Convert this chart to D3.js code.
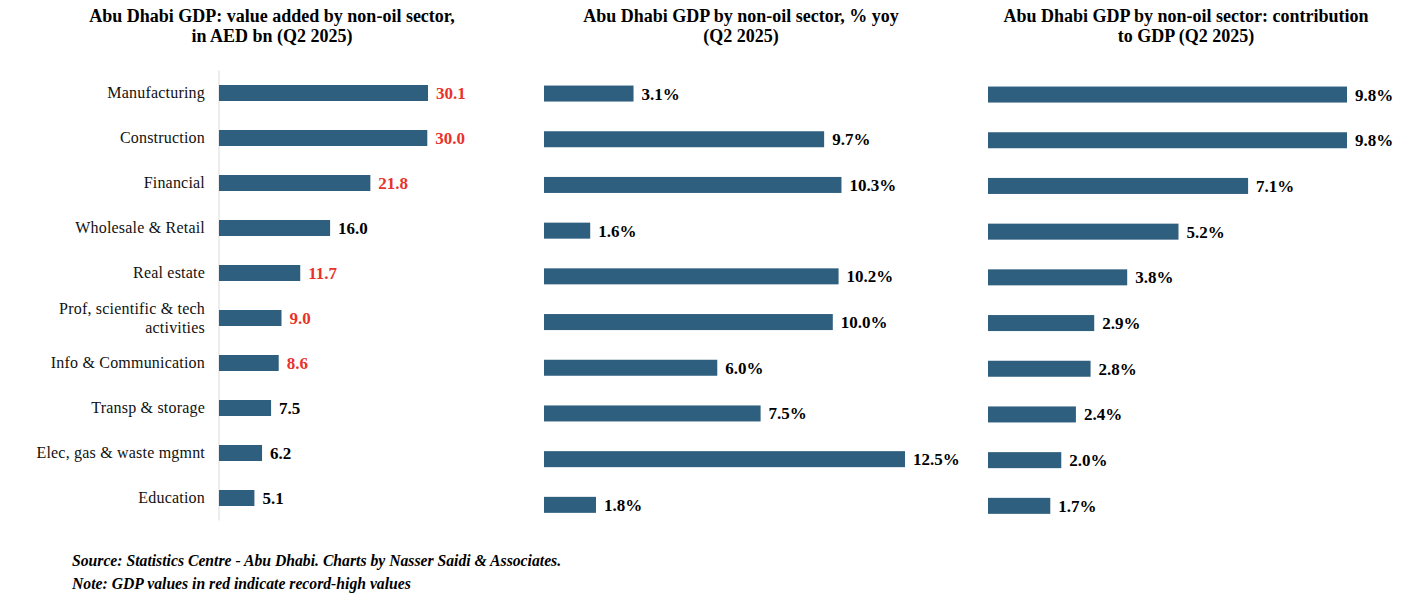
<!DOCTYPE html>
<html>
<head>
<meta charset="utf-8">
<script src="https://cdn.jsdelivr.net/npm/d3@7"></script>
<style>
  body { margin: 0; background: #fff; }
  svg { font-family: "Liberation Serif", "Times New Roman", serif; }
</style>
</head>
<body>
<svg width="1410" height="602"></svg>
<script>
// data
const sectors = ['Manufacturing', 'Construction', 'Financial', 'Wholesale & Retail', 'Real estate',
  'Prof, scientific & tech|activities', 'Info & Communication', 'Transp & storage',
  'Elec, gas & waste mgmnt', 'Education'];
const valueAdded = [30.1, 30.0, 21.8, 16.0, 11.7, 9.0, 8.6, 7.5, 6.2, 5.1];
const recordHigh = [true, true, true, false, true, true, true, false, false, false];
const yoyGrowth = [3.1, 9.7, 10.3, 1.6, 10.2, 10.0, 6.0, 7.5, 12.5, 1.8];
const gdpShare = [9.8, 9.8, 7.1, 5.2, 3.8, 2.9, 2.8, 2.4, 2.0, 1.7];

const titles = [
  ['Abu Dhabi GDP: value added by non-oil sector,', 'in AED bn (Q2 2025)'],
  ['Abu Dhabi GDP by non-oil sector, % yoy', '(Q2 2025)'],
  ['Abu Dhabi GDP by non-oil sector: contribution', 'to GDP (Q2 2025)']
];

const svg = d3.select("svg");
const barColor = "#2f5f7e";
const red = "#e8322b";

// layout of each panel
const panels = [
  { values: valueAdded, fmt: d => d.toFixed(1), x0: 219, x1: 428, max: 30.1, y0: 70.5, y1: 520.5, titleX: 272, axis: true, red: true },
  { values: yoyGrowth, fmt: d => d.toFixed(1) + '%', x0: 544, x1: 905, max: 12.5, y0: 70.7, y1: 527.7, titleX: 741, axis: false, red: false },
  { values: gdpShare, fmt: d => d.toFixed(1) + '%', x0: 988, x1: 1347, max: 9.8, y0: 71.7, y1: 528.7, titleX: 1186, axis: false, red: false }
];

panels.forEach(function(p, pi) {
  const g = svg.append("g");

  const x = d3.scaleLinear().domain([0, p.max]).range([p.x0, p.x1]);
  const y = d3.scalePoint().domain(sectors).range([p.y0, p.y1]).padding(0.5);
  const barH = 16;

  // title
  g.append("text")
    .attr("text-anchor", "middle")
    .attr("font-weight", "bold")
    .attr("font-size", "18px")
    .selectAll("tspan")
    .data(titles[pi])
    .enter()
    .append("tspan")
    .attr("x", p.titleX)
    .attr("y", (d, i) => 22 + i * 20)
    .text(d => d);

  if (p.axis) {
    g.append("line")
      .attr("x1", p.x0).attr("x2", p.x0)
      .attr("y1", p.y0).attr("y2", p.y1)
      .attr("stroke", "#d9d9d9")
      .attr("stroke-width", 1);

    // category labels
    sectors.forEach(function(s) {
      const lines = s.split('|');
      const t = g.append("text")
        .attr("text-anchor", "end")
        .attr("font-size", "16px")
        .attr("letter-spacing", "0.2px")
        .attr("fill", "#111");
      lines.forEach(function(l, i) {
        t.append("tspan")
          .attr("x", p.x0 - 14)
          .attr("y", y(s) + 5 + (i - (lines.length - 1) / 2) * 19)
          .text(l);
      });
    });
  }

  // bars
  g.selectAll("rect")
    .data(p.values)
    .enter()
    .append("rect")
    .attr("x", x(0))
    .attr("y", (d, i) => y(sectors[i]) - barH / 2)
    .attr("width", d => x(d) - x(0))
    .attr("height", barH)
    .attr("fill", barColor);

  // value labels
  g.selectAll("text.val")
    .data(p.values)
    .enter()
    .append("text")
    .attr("class", "val")
    .attr("x", d => x(d) + 8)
    .attr("y", (d, i) => y(sectors[i]) + 6)
    .attr("font-weight", "bold")
    .attr("font-size", "17px")
    .attr("fill", (d, i) => p.red && recordHigh[i] ? red : "#000")
    .text(d => p.fmt(d));
});

// footnotes
svg.append("text")
  .attr("x", 72).attr("y", 566)
  .attr("font-weight", "bold").attr("font-style", "italic")
  .attr("font-size", "15.7px")
  .text("Source: Statistics Centre - Abu Dhabi. Charts by Nasser Saidi & Associates.");
svg.append("text")
  .attr("x", 72).attr("y", 589)
  .attr("font-weight", "bold").attr("font-style", "italic")
  .attr("font-size", "15.7px")
  .text("Note: GDP values in red indicate record-high values");
</script>
</body>
</html>
